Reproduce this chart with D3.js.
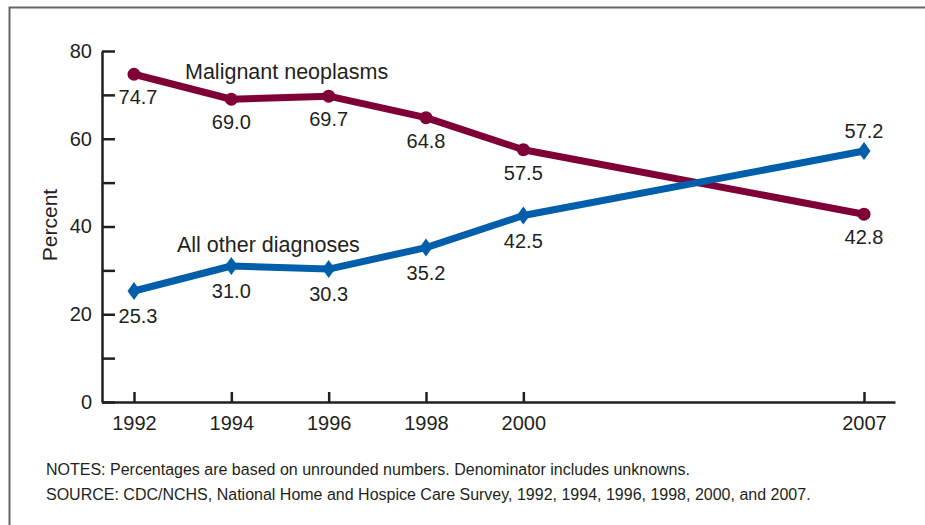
<!DOCTYPE html>
<html>
<head>
<meta charset="utf-8">
<script src="https://cdn.jsdelivr.net/npm/d3@7"></script>
<style>
  html, body { margin: 0; padding: 0; background: #fff; }
  svg { display: block; }
  text { font-family: "Liberation Sans", Arial, sans-serif; fill: #231f20; }
</style>
</head>
<body>
<script>
const years = [1992, 1994, 1996, 1998, 2000, 2007];
const malignant = [74.7, 69.0, 69.7, 64.8, 57.5, 42.8];
const otherDiag = [25.3, 31.0, 30.3, 35.2, 42.5, 57.2];
const yMajorTicks = [0, 20, 40, 60, 80];
const yMinorTicks = [10, 30, 50, 70];
const seriesNames = ["Malignant neoplasms", "All other diagnoses"];
const notes = "NOTES: Percentages are based on unrounded numbers. Denominator includes unknowns.";
const source = "SOURCE: CDC/NCHS, National Home and Hospice Care Survey, 1992, 1994, 1996, 1998, 2000, and 2007.";

const W = 925, H = 525;
const svg = d3.select("body").append("svg").attr("width", W).attr("height", H);

// frame (top and left edges)
svg.append("path").attr("d", "M9.5,525 L9.5,7.5 L925,7.5")
  .attr("fill", "none").attr("stroke", "#666").attr("stroke-width", 2);

const pxPerYear = (864 - 134) / (2007 - 1992);
const x = d3.scaleLinear()
  .domain([1992 - (134 - 102) / pxPerYear, 2007 + (895 - 864) / pxPerYear])
  .range([102, 895]);
const y = d3.scaleLinear().domain([0, 80]).range([402, 51]);

const axisColor = "#231f20";
const fs = 20;

// Y axis
svg.append("g").attr("transform", "translate(102,0)")
  .call(d3.axisLeft(y).tickValues(yMajorTicks).tickSizeInner(-13).tickSizeOuter(0).tickPadding(10).tickFormat(d3.format("d")));
svg.append("g").attr("transform", "translate(102,0)")
  .call(d3.axisLeft(y).tickValues(yMinorTicks).tickSizeInner(-13).tickSizeOuter(0).tickFormat(""))
  .select(".domain").remove();

// X axis
svg.append("g").attr("transform", "translate(0,402)")
  .call(d3.axisBottom(x).tickValues(years).tickSizeInner(-10).tickSizeOuter(0).tickPadding(14).tickFormat(d3.format("d")));

svg.selectAll(".domain").attr("stroke", axisColor).attr("stroke-width", 2.5);
svg.selectAll(".tick line").attr("stroke", axisColor).attr("stroke-width", 2.5);
svg.selectAll(".tick text").attr("font-size", fs).attr("font-family", "Liberation Sans, Arial, sans-serif").attr("fill", axisColor);

// Y label
svg.append("text").attr("transform", "translate(57,225) rotate(-90)")
  .attr("text-anchor", "middle").attr("font-size", 21).text("Percent");

const line = d3.line().x((d, i) => x(years[i])).y(d => y(d));

const maroon = "#7f0037";
const blue = "#005eab";

// Malignant line
svg.append("path").datum(malignant).attr("d", line)
  .attr("fill", "none").attr("stroke", maroon).attr("stroke-width", 7).attr("stroke-linejoin", "round");
svg.selectAll(".mdot").data(malignant).enter().append("circle")
  .attr("cx", (d, i) => x(years[i])).attr("cy", d => y(d)).attr("r", 6.5).attr("fill", maroon);

// Other line
svg.append("path").datum(otherDiag).attr("d", line)
  .attr("fill", "none").attr("stroke", blue).attr("stroke-width", 7).attr("stroke-linejoin", "round");
svg.selectAll(".odot").data(otherDiag).enter().append("path")
  .attr("transform", (d, i) => `translate(${x(years[i])},${y(d)})`)
  .attr("d", "M0,-9 L6.5,0 L0,9 L-6.5,0 Z").attr("fill", blue);

// value labels
const fmt = d3.format(".1f");
svg.selectAll(".mlab").data(malignant).enter().append("text")
  .attr("x", (d, i) => x(years[i]) + (i === 0 ? 4 : 0))
  .attr("y", d => y(d) + 30)
  .attr("text-anchor", "middle").attr("font-size", fs).text(d => fmt(d));
svg.selectAll(".olab").data(otherDiag).enter().append("text")
  .attr("x", (d, i) => x(years[i]) + (i === 0 ? 4 : 0))
  .attr("y", (d, i) => i === years.length - 1 ? y(d) - 13 : y(d) + 32)
  .attr("text-anchor", "middle").attr("font-size", fs).text(d => fmt(d));

// series names
svg.append("text").attr("x", 185).attr("y", 79).attr("font-size", 21.5).text(seriesNames[0]);
svg.append("text").attr("x", 177).attr("y", 252).attr("font-size", 21.5).text(seriesNames[1]);

// notes
svg.append("text").attr("x", 46).attr("y", 475).attr("font-size", 16).text(notes);
svg.append("text").attr("x", 46).attr("y", 500).attr("font-size", 16).text(source);
</script>
</body>
</html>
